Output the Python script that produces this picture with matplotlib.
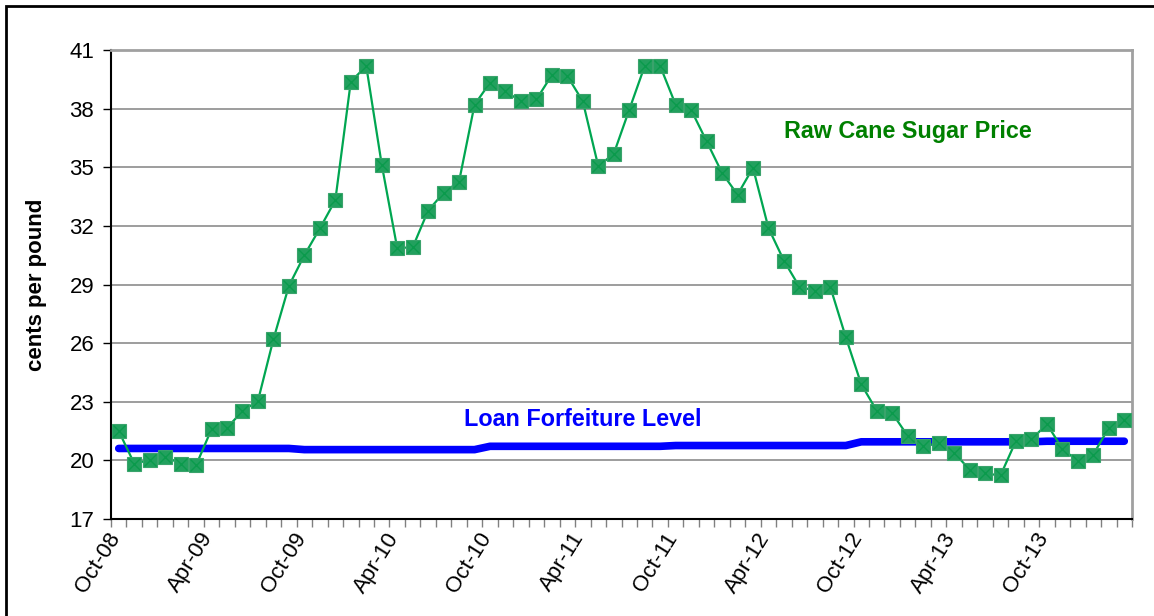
import matplotlib
matplotlib.use("Agg")
import matplotlib.pyplot as plt
from matplotlib.patches import Rectangle
from matplotlib.transforms import ScaledTranslation
import numpy as np

plt.rcParams['font.family'] = ['Liberation Sans', 'DejaVu Sans']

# monthly data, Oct-08 .. Mar-14
months = ['Oct-08', 'Nov-08', 'Dec-08', 'Jan-09', 'Feb-09', 'Mar-09',
          'Apr-09', 'May-09', 'Jun-09', 'Jul-09', 'Aug-09', 'Sep-09',
          'Oct-09', 'Nov-09', 'Dec-09', 'Jan-10', 'Feb-10', 'Mar-10',
          'Apr-10', 'May-10', 'Jun-10', 'Jul-10', 'Aug-10', 'Sep-10',
          'Oct-10', 'Nov-10', 'Dec-10', 'Jan-11', 'Feb-11', 'Mar-11',
          'Apr-11', 'May-11', 'Jun-11', 'Jul-11', 'Aug-11', 'Sep-11',
          'Oct-11', 'Nov-11', 'Dec-11', 'Jan-12', 'Feb-12', 'Mar-12',
          'Apr-12', 'May-12', 'Jun-12', 'Jul-12', 'Aug-12', 'Sep-12',
          'Oct-12', 'Nov-12', 'Dec-12', 'Jan-13', 'Feb-13', 'Mar-13',
          'Apr-13', 'May-13', 'Jun-13', 'Jul-13', 'Aug-13', 'Sep-13',
          'Oct-13', 'Nov-13', 'Dec-13', 'Jan-14', 'Feb-14', 'Mar-14']

raw_cane = [21.50, 19.84, 20.01, 20.18, 19.84, 19.75,
            21.60, 21.67, 22.52, 23.05, 26.20, 28.93,
            30.50, 31.87, 33.31, 39.38, 40.18, 35.14,
            30.87, 30.90, 32.78, 33.69, 34.27, 38.20,
            39.33, 38.88, 38.38, 38.47, 39.72, 39.67,
            38.37, 35.05, 35.69, 37.94, 40.18, 40.18,
            38.20, 37.94, 36.33, 34.71, 33.60, 34.97,
            31.89, 30.22, 28.88, 28.69, 28.87, 26.30,
            23.89, 22.54, 22.42, 21.25, 20.74, 20.87,
            20.39, 19.53, 19.33, 19.23, 21.00, 21.07,
            21.86, 20.59, 19.96, 20.30, 21.67, 22.06]

loan_level = [20.61] * 12 + [20.55] * 12 + [20.72] * 12 + [20.76] * 12 + \
             [20.95] * 12 + [20.98] * 6

x = np.arange(len(months))

fig = plt.figure(figsize=(11.54, 6.16), dpi=100)
ax = fig.add_axes([111/1154, 97/616, 1021/1154, 469/616])

ax.set_xlim(-0.5, len(months) - 0.5)
ax.set_ylim(17, 41)
ax.set_yticks(np.arange(17, 42, 3))
ax.grid(axis='y', color='#8c8c8c', linewidth=1.2)
ax.set_axisbelow(True)

# loan forfeiture level
ax.plot(x, loan_level, color='#0000ff', linewidth=5.5, solid_capstyle='round',
        zorder=3)

# raw cane sugar price
ax.plot(x, raw_cane, color='#00a651', linewidth=1.6, marker='s', markersize=9.5,
        markerfacecolor='#22a05e', markeredgecolor='#3aa36c', markeredgewidth=0.8,
        zorder=4)
ax.plot(x, raw_cane, linestyle='none', marker='x', markersize=8,
        markeredgecolor='#0b9a4c', markeredgewidth=1.0, zorder=5)

ax.text(51.0, 36.85, 'Raw Cane Sugar Price', color='#008000', fontsize=16.8,
        fontweight='bold', ha='center', va='center')
ax.text(30.0, 22.1, 'Loan Forfeiture Level', color='#0000ff', fontsize=16.8,
        fontweight='bold', ha='center', va='center')

ax.set_ylabel('cents per pound', fontsize=16, fontweight='bold', labelpad=16)

# x axis: ticks between months, labels every 6 months
ax.set_xticks(x[::6])
ax.set_xticklabels(months[::6], rotation=58, ha='right', va='top',
                   rotation_mode='anchor', fontsize=16)
ax.set_xticks(np.arange(-0.5, len(months), 1.0), minor=True)
ax.tick_params(axis='x', which='major', length=0, pad=7)
ax.tick_params(axis='x', which='minor', length=6, color='#808080', width=1)
ax.tick_params(axis='y', length=6, width=1, labelsize=16, pad=6)
shift = ScaledTranslation(-0.12, 0, fig.dpi_scale_trans)
for lbl in ax.get_xticklabels():
    lbl.set_transform(lbl.get_transform() + shift)

for side in ['left', 'bottom']:
    ax.spines[side].set_color('black')
    ax.spines[side].set_linewidth(1.5)
for side in ['top', 'right']:
    ax.spines[side].set_color('#a0a0a0')
    ax.spines[side].set_linewidth(2)

# outer chart frame
fig.patches.append(Rectangle((6/1154, -0.1), 1.2, 0.1 + 1 - 6/616,
                             transform=fig.transFigure, fill=False,
                             edgecolor='black', linewidth=2))

fig.savefig('out.png', dpi=100)
